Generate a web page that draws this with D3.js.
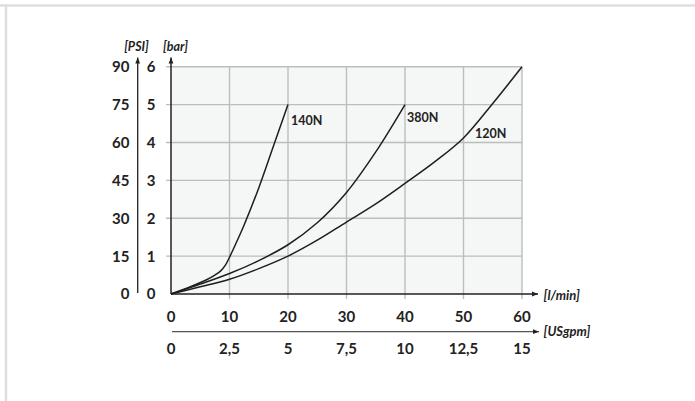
<!DOCTYPE html>
<html>
<head>
<meta charset="utf-8">
<script src="https://cdn.jsdelivr.net/npm/d3@7/dist/d3.min.js"></script>
<style>
html,body{margin:0;padding:0;background:#fff;}
svg{display:block;font-family:Lato,"Open Sans",sans-serif;}
</style>
</head>
<body>
<svg id="c" width="695" height="401"></svg>
<script>
// ---- data ----
const barTicks = [0,1,2,3,4,5,6];
const psiTicks = [0,15,30,45,60,75,90];
const lminTicks = [0,10,20,30,40,50,60];
const usgpmTicks = [0,2.5,5,7.5,10,12.5,15];
const usgpmLabels = ["0","2,5","5","7,5","10","12,5","15"];

const flow140 = [0,3,6,7.5,8.5,9.3,10,11,12.5,15,17.5,20];
const bar140  = [0,0.17,0.37,0.5,0.61,0.76,0.97,1.3,1.82,2.8,3.9,5];

const flow380 = [0,5,10,15,20,25,30,35,40];
const bar380  = [0,0.26,0.54,0.88,1.3,1.88,2.68,3.75,5];

const flow120 = [0,5,10,15,20,25,30,35,40,45,50,55,60];
const bar120  = [0,0.19,0.39,0.67,1.0,1.42,1.9,2.38,2.92,3.48,4.12,5.03,6];

const seriesNames = ["140N","380N","120N"];

// ---- layout ----
const svg = d3.select("#c");
const x = d3.scaleLinear().domain([0,60]).range([171,522]);
const xg = d3.scaleLinear().domain([0,15]).range([171,522]);
const y = d3.scaleLinear().domain([0,6]).range([294,66.7]);
const yp = d3.scaleLinear().domain([0,90]).range([294,66.7]);

// frame (top & left)
svg.append("line").attr("x1",0).attr("x2",695).attr("y1",5.5).attr("y2",5.5).attr("stroke","#dedede").attr("stroke-width",2.4);
svg.append("line").attr("x1",6).attr("x2",6).attr("y1",4.3).attr("y2",401).attr("stroke","#dedede").attr("stroke-width",2.4);

// plot background
svg.append("rect").attr("x",x(0)).attr("y",y(6)).attr("width",x(60)-x(0)).attr("height",y(0)-y(6)).attr("fill","#f5f7f6");

const gridColor = "#bdbdbd";
svg.selectAll(".vg").data(lminTicks.slice(1)).enter().append("line")
  .attr("x1",d=>x(d)).attr("x2",d=>x(d)).attr("y1",y(6)).attr("y2",y(0)+5)
  .attr("stroke",gridColor).attr("stroke-width",1.4);
svg.selectAll(".hg").data(barTicks.slice(1)).enter().append("line")
  .attr("x1",x(0)-5).attr("x2",x(60)).attr("y1",d=>y(d)).attr("y2",d=>y(d))
  .attr("stroke",gridColor).attr("stroke-width",1.4);

// arrow marker
const defs = svg.append("defs");
defs.append("marker").attr("id","arr").attr("viewBox","0 0 10 10").attr("refX",10).attr("refY",5)
  .attr("markerWidth",6).attr("markerHeight",6).attr("markerUnits","userSpaceOnUse").attr("orient","auto")
  .append("path").attr("d","M0,1 L10,5 L0,9 Z").attr("fill","#222");

const axisColor = "#222";
svg.append("line").attr("x1",x(0)).attr("x2",x(0)).attr("y1",y(0)).attr("y2",57.5)
  .attr("stroke",axisColor).attr("stroke-width",1.5).attr("marker-end","url(#arr)");
svg.append("line").attr("x1",137.7).attr("x2",137.7).attr("y1",y(0)-1).attr("y2",57.5)
  .attr("stroke",axisColor).attr("stroke-width",1.3).attr("marker-end","url(#arr)");
svg.append("line").attr("x1",x(0)).attr("x2",538).attr("y1",y(0)).attr("y2",y(0))
  .attr("stroke",axisColor).attr("stroke-width",1.5).attr("marker-end","url(#arr)");
svg.append("line").attr("x1",x(0)+1).attr("x2",539).attr("y1",331.7).attr("y2",331.7)
  .attr("stroke","#555").attr("stroke-width",1.3).attr("marker-end","url(#arr)");

const tickFont = 15;
const tc = "#222";
svg.selectAll(".bl").data(barTicks).enter().append("text")
  .attr("x",151).attr("y",d=>y(d)).attr("dy","0.36em").attr("text-anchor","middle")
  .attr("font-size",tickFont).attr("font-weight","bold").attr("fill",tc).text(d=>d);
svg.selectAll(".pl").data(psiTicks).enter().append("text")
  .attr("x",129.5).attr("y",d=>yp(d)).attr("dy","0.36em").attr("text-anchor","end")
  .attr("font-size",tickFont).attr("font-weight","bold").attr("fill",tc).text(d=>d);
svg.selectAll(".xl").data(lminTicks).enter().append("text")
  .attr("x",d=>x(d)).attr("y",317).attr("dy","0.36em").attr("text-anchor","middle")
  .attr("font-size",tickFont).attr("font-weight","bold").attr("fill",tc).text(d=>d);
svg.selectAll(".gl").data(usgpmTicks).enter().append("text")
  .attr("x",d=>xg(d)).attr("y",348.5).attr("dy","0.36em").attr("text-anchor","middle")
  .attr("font-size",tickFont).attr("font-weight","bold").attr("fill",tc).text((d,i)=>usgpmLabels[i]);

const unit = (t,xx,yy,anchor,fs)=>svg.append("text").attr("x",xx).attr("y",yy).attr("dy","0.36em")
  .attr("text-anchor",anchor).attr("font-size",fs).attr("font-style","italic").attr("font-weight","bold")
  .attr("fill",tc).text(t);
unit("[PSI]",136.5,46.5,"middle",12.5);
unit("[bar]",175.5,46.5,"middle",12.5);
unit("[l/min]",543.5,295,"start",13);
unit("[USgpm]",543.5,331.5,"start",13);

// curves
const line = d3.line().x(d=>x(d[0])).y(d=>y(d[1])).curve(d3.curveCatmullRom.alpha(0.5));
const series = [
  d3.zip(flow140,bar140),
  d3.zip(flow380,bar380),
  d3.zip(flow120,bar120)
];
svg.selectAll(".crv").data(series).enter().append("path")
  .attr("d",line).attr("fill","none").attr("stroke","#1e1e1e").attr("stroke-width",1.5);

// series labels
const labPos = [[20,5,3,16],[40,5,2,13],[50,4,11.5,-9]];
svg.selectAll(".sl").data(seriesNames).enter().append("text")
  .attr("x",(d,i)=>x(labPos[i][0])+labPos[i][2])
  .attr("y",(d,i)=>y(labPos[i][1])+labPos[i][3])
  .attr("dy","0.36em").attr("font-size",12.5).attr("font-weight","bold").attr("fill",tc).text(d=>d);
</script>
</body>
</html>
